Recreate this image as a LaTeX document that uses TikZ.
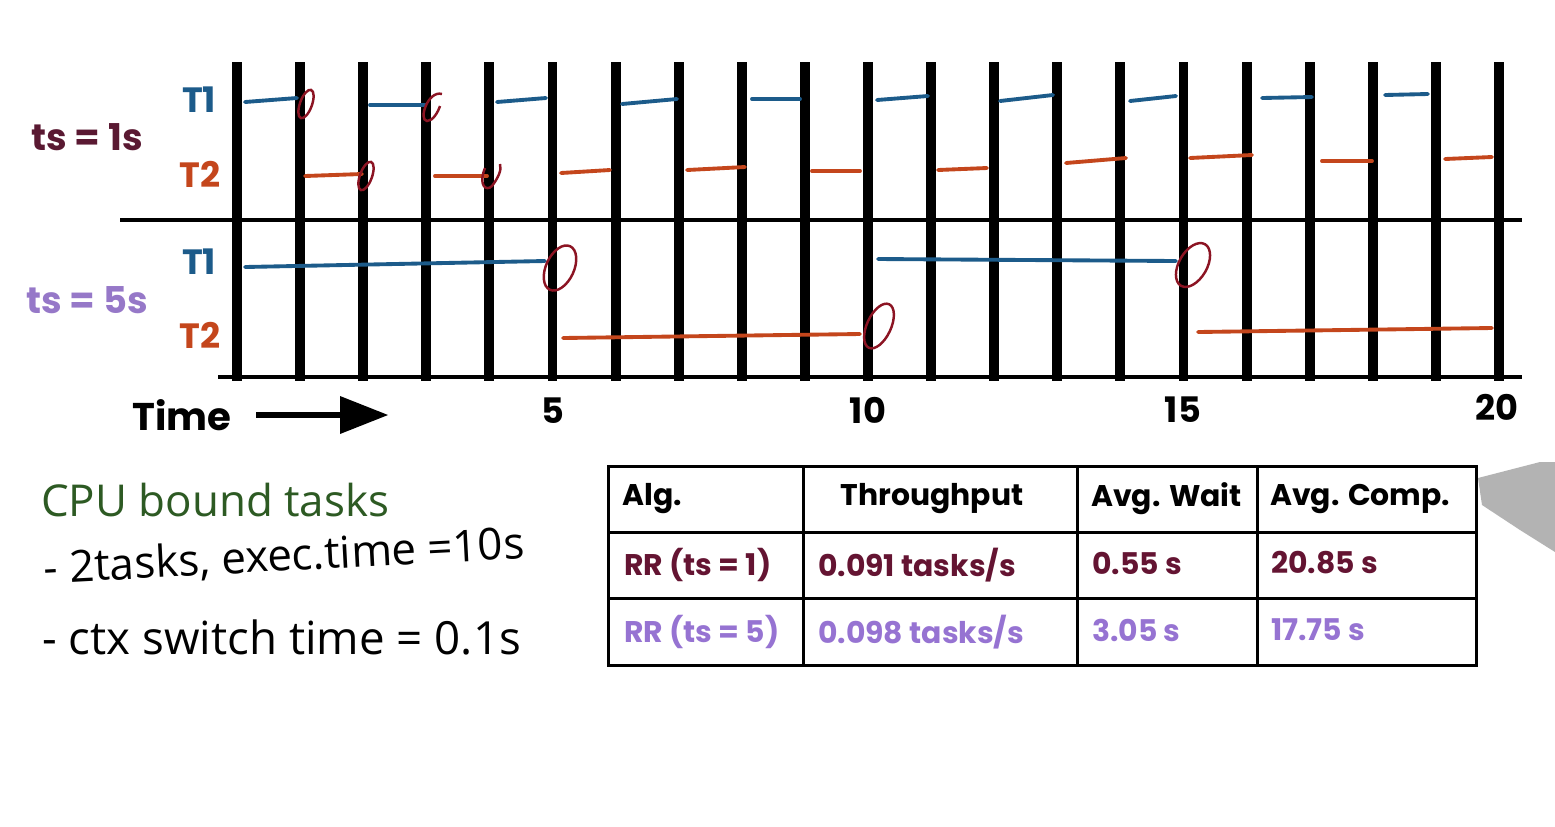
\documentclass[tikz,border=0pt]{standalone}
\usepackage{fontspec}
\setmainfont{Poppins}
\newfontfamily\handfont{Open Sans}
\definecolor{tblue}{RGB}{28,91,138}
\definecolor{torange}{RGB}{196,70,28}
\definecolor{circred}{RGB}{140,20,35}
\definecolor{tsone}{RGB}{90,25,50}
\definecolor{tsfive}{RGB}{150,120,200}
\definecolor{rowone}{RGB}{100,20,50}
\definecolor{rowtwo}{RGB}{150,115,210}
\definecolor{hand}{RGB}{45,90,35}
\begin{document}
\begin{tikzpicture}[x=0.02cm,y=-0.02cm,
  bar/.style={line width=5.6pt},
  hline/.style={line width=2.3pt},
  seg1/.style={tblue,line width=2.2pt,line cap=round},
  seg2/.style={torange,line width=2.2pt,line cap=round},
  circ/.style={circred,line width=1.4pt},
  tlab/.style={font=\bfseries\fontsize{20}{20}\selectfont},
  tslab/.style={font=\bfseries\fontsize{21}{21}\selectfont},
  num/.style={font=\bfseries\fontsize{20}{20}\selectfont},
  cell/.style={font=\bfseries\fontsize{17}{17}\selectfont,anchor=west},
  handtxt/.style={font=\handfont\fontsize{25}{25}\selectfont,anchor=west}]
\useasboundingbox (0,0) rectangle (1555,826);
\fill[white] (0,0) rectangle (1555,826);
% grid
\draw[hline] (120,220) -- (1522,220);
\draw[hline] (218,377) -- (1522,377);
\foreach \i in {0,...,20}{
  \draw[bar] ({237+63.1*\i},62) -- ({237+63.1*\i},381);
}
% ts = 1 segments
\foreach \a/\b/\c/\d in {245/102/297/98, 370/105/425/105, 497/102/546/98, 622/104/677/99,
  752/99/800/99, 877/100/928/96, 1000/101/1053/95, 1130/101/1176/96, 1262/98/1312/97, 1385/95/1428/94}
  \draw[seg1] (\a,\b) -- (\c,\d);
\foreach \a/\b/\c/\d in {305/176/362/174, 435/176/487/176, 561/173/610/170, 687/170/745/167,
  812/171/860/171, 938/170/987/168, 1066/163/1126/158, 1190/158/1252/155, 1322/161/1372/161, 1445/159/1492/157}
  \draw[seg2] (\a,\b) -- (\c,\d);
% ts = 5 segments
\draw[seg1] (245,267) -- (545,261);
\draw[seg1] (878,259) -- (1176,261);
\draw[seg2] (563,338) -- (860,334);
\draw[seg2] (1198,332) -- (1492,328);
% red marks
\draw[circ,rotate around={-20:(306,104)}] (306,104) ellipse [x radius=6, y radius=15];
\draw[circ,rotate around={-20:(366,176)}] (366,176) ellipse [x radius=6, y radius=15];
\draw[circ] (442,94) .. controls (428,90) and (418,120) .. (427,121) .. controls (433,121) and (438,112) .. (440,106);
\draw[circ] (485,168) .. controls (478,185) and (486,192) .. (492,186) .. controls (498,178) and (502,170) .. (500,164);
\draw[circ,rotate around={-25:(560,268)}] (560,268) ellipse [x radius=14, y radius=24];
\draw[circ,rotate around={-25:(879,326)}] (879,326) ellipse [x radius=12, y radius=24];
\draw[circ,rotate around={-30:(1193,265)}] (1193,265) ellipse [x radius=14, y radius=24];
% labels
\node[tlab,text=tblue] (t1a) at (199,100) {T1};
\node[tlab,text=torange] (t2a) at (200,174) {T2};
\node[tlab,text=tblue] (t1b) at (199,262) {T1};
\node[tlab,text=torange] (t2b) at (200,335) {T2};
\node[tslab,text=tsone] (tsa) at (87,137) {ts = 1s};
\node[tslab,text=tsfive] (tsb) at (87,300) {ts = 5s};
% time axis
\node[font=\bfseries\fontsize{22}{22}\selectfont] (time) at (182,415) {Time};
\coordinate (arrs) at (256,415);
\coordinate (arre) at (345,415);
\draw[line width=3pt] (arrs) -- (arre);
\fill (340,396) -- (388,415) -- (340,434) -- cycle;
\node[num] (n5) at (553,411) {5};
\node[num] (n10) at (868,410) {10};
\node[num] (n15) at (1183,410) {15};
\node[num] (n20) at (1497,407) {20};
% handwritten notes
\node[handtxt,text=hand] (cpu) at (35,500) {CPU bound tasks};
\node[handtxt,rotate=3] (l1) at (38,570) {- 2tasks, exec.time =10s};
\node[handtxt,font=\handfont\fontsize{26}{26}\selectfont] (l2) at (36,637) {- ctx switch time = 0.1s};
% table
\draw[line width=1.7pt] (608,466) rectangle (1476,665);
\draw[line width=1.7pt] (608,532) -- (1476,532);
\draw[line width=1.7pt] (608,598) -- (1476,598);
\foreach \xx in {803,1077,1257} \draw[line width=1.7pt] (\xx,466) -- (\xx,665);
\node[cell] (h1) at (616,499) {Alg.};
\node[cell,anchor=center] (h2) at (932,499) {Throughput};
\node[cell] (h3) at (1085,499) {Avg. Wait};
\node[cell] (h4) at (1264,499) {Avg. Comp.};
\node[cell,text=rowone] (a1) at (618,565) {RR (ts = 1)};
\node[cell,text=rowone] (a2) at (812,565) {0.091 tasks/s};
\node[cell,text=rowone] (a3) at (1086,563) {0.55 s};
\node[cell,text=rowone] (a4) at (1265,563) {20.85 s};
\node[cell,text=rowtwo] (b1) at (618,632) {RR (ts = 5)};
\node[cell,text=rowtwo] (b2) at (812,632) {0.098 tasks/s};
\node[cell,text=rowtwo] (b3) at (1086,630) {3.05 s};
\node[cell,text=rowtwo] (b4) at (1265,630) {17.75 s};
% pen tip
\fill[gray!70,opacity=0.85] (1478,478) -- (1540,462) -- (1555,462) -- (1555,552) -- (1520,530) -- (1482,505) -- cycle;
\end{tikzpicture}
\end{document}
